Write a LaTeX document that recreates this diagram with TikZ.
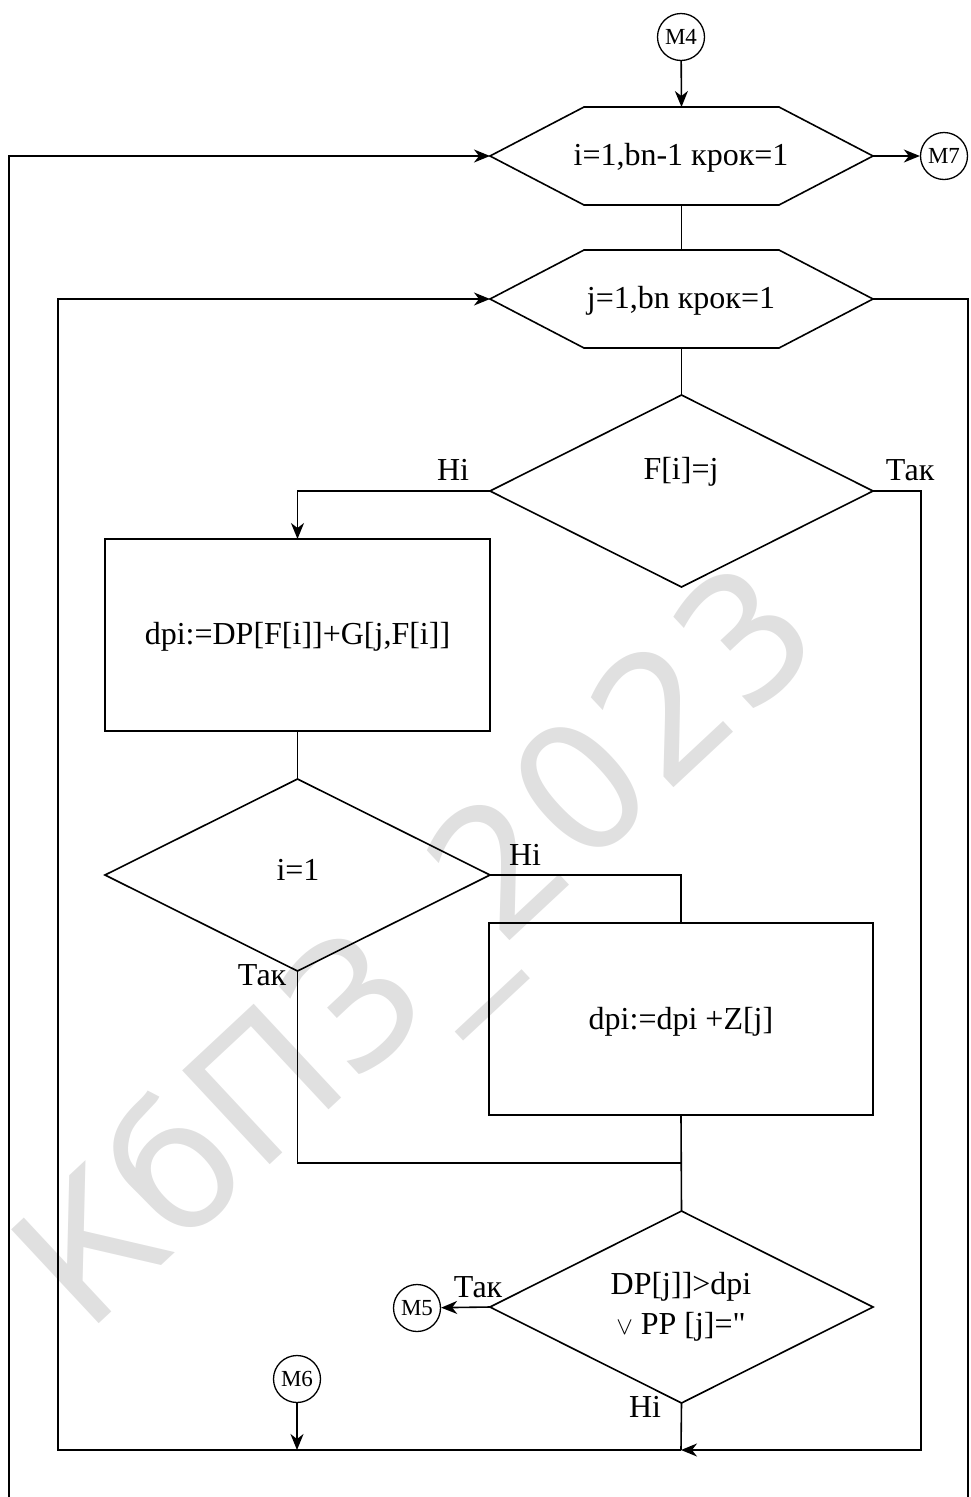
\documentclass[tikz,border=0pt]{standalone}
\usepackage{fontspec}
\setmainfont{Liberation Serif}
\newfontfamily\wmfont{DejaVu Sans}
\usetikzlibrary{arrows.meta,shapes.geometric,calc}
\newcommand\hexdraw[1]{\draw (#1.west) -- ($(#1.north west)+(94,0)$) -- ($(#1.north east)+(-94,0)$) -- (#1.east) -- ($(#1.south east)+(-94,0)$) -- ($(#1.south west)+(94,0)$) -- cycle;}
\begin{document}
\begin{tikzpicture}[x=1pt,y=-1pt,line width=1.6pt,
  arr/.style={-{Stealth[length=16pt,width=13pt,inset=5pt]}},
  conn/.style={circle,draw,line width=1.3pt,minimum size=47pt,inner sep=0pt,font=\fontsize{23}{24}\selectfont},
  lbl/.style={font=\fontsize{32}{36}\selectfont,inner sep=0pt},
  box/.style={draw,minimum height=192pt,inner sep=0pt,outer sep=0pt},
  dec/.style={diamond,draw,minimum width=383pt,minimum height=192pt,inner sep=0pt,outer sep=0pt},
  hexb/.style={minimum width=383pt,minimum height=98pt,inner sep=0pt,outer sep=0pt},
  wm/.style={rotate=43,text=black!12,font=\wmfont\fontsize{176}{176}\selectfont,inner sep=0pt}]
\useasboundingbox (0,0) rectangle (970,1497);
% watermark
\node[wm] (mark) at (425,955) {КбПЗ\_2023};
% nodes
\node[conn] (m4) at (681,37) {M4};
\node[hexb] (h1) at (681.5,156) {};
\hexdraw{h1}
\node[lbl] (t1) at (681,158) {i=1,bn-1 крок=1};
\node[conn] (m7) at (944,156) {M7};
\node[hexb] (h2) at (681.5,299) {};
\hexdraw{h2}
\node[lbl] (t2) at (681,301) {j=1,bn крок=1};
\node[dec] (d1) at (681.5,491) {};
\node[lbl] (t3) at (681,472) {F[i]=j};
\node[box,minimum width=385pt] (b1) at (297.5,635) {};
\node[lbl] (t4) at (297.5,637) {dpi:=DP[F[i]]+G[j,F[i]]};
\node[dec,minimum width=385pt] (d2) at (297.5,875) {};
\node[lbl] (t5) at (298,870) {i=1};
\node[box,minimum width=384pt] (b2) at (681,1019) {};
\node[lbl] (t6) at (681,1022) {dpi:=dpi +Z[j]};
\node[dec] (d3) at (681.5,1307) {};
\node[lbl,align=center,font=\fontsize{32}{40}\selectfont] (t7) at (681,1307) {DP[j]]>dpi\\$\vee$ PP [j]=\textquotedbl};
\node[conn] (m5) at (417,1308) {M5};
\node[conn] (m6) at (297,1379) {M6};
% branch labels
\node[lbl] (l1) at (453,470) {Ні};
\node[lbl] (l2) at (910,470) {Так};
\node[lbl] (l3) at (525,855) {Ні};
\node[lbl] (l4) at (262,975) {Так};
\node[lbl] (l5) at (478,1287) {Так};
\node[lbl] (l6) at (645,1407) {Ні};
% helper coordinates
\coordinate (jn) at (681,1450);
\coordinate (rb) at (921,1450);
\coordinate (lb) at (58,1450);
\coordinate (mj) at (681,1163);
\coordinate (rx) at (968,1497);
\coordinate (lx) at (9,1497);
% connectors
\draw[arr] (m4) -- (h1.north);
\draw[arr] (h1.east) -- (m7);
\draw (h1.south) -- (h2.north);
\draw (h2.south) -- (d1.north);
\draw[arr] (d1.west) -| (b1.north);
\draw[arr] (d1.east) -| (rb) -- (jn);
\draw (b1.south) -- (d2.north);
\draw (d2.east) -| (b2.north);
\draw (d2.south) |- (mj);
\draw (b2.south) -- (d3.north);
\draw[arr] (d3.west) -- (m5);
\draw (d3.south) -- (jn);
\draw[arr] (jn) -- (lb) |- (h2.west);
\draw[arr] (m6) -- (m6 |- jn);
\draw (h2.east) -| (rx);
\draw[arr] (lx) |- (h1.west);
\end{tikzpicture}
\end{document}
